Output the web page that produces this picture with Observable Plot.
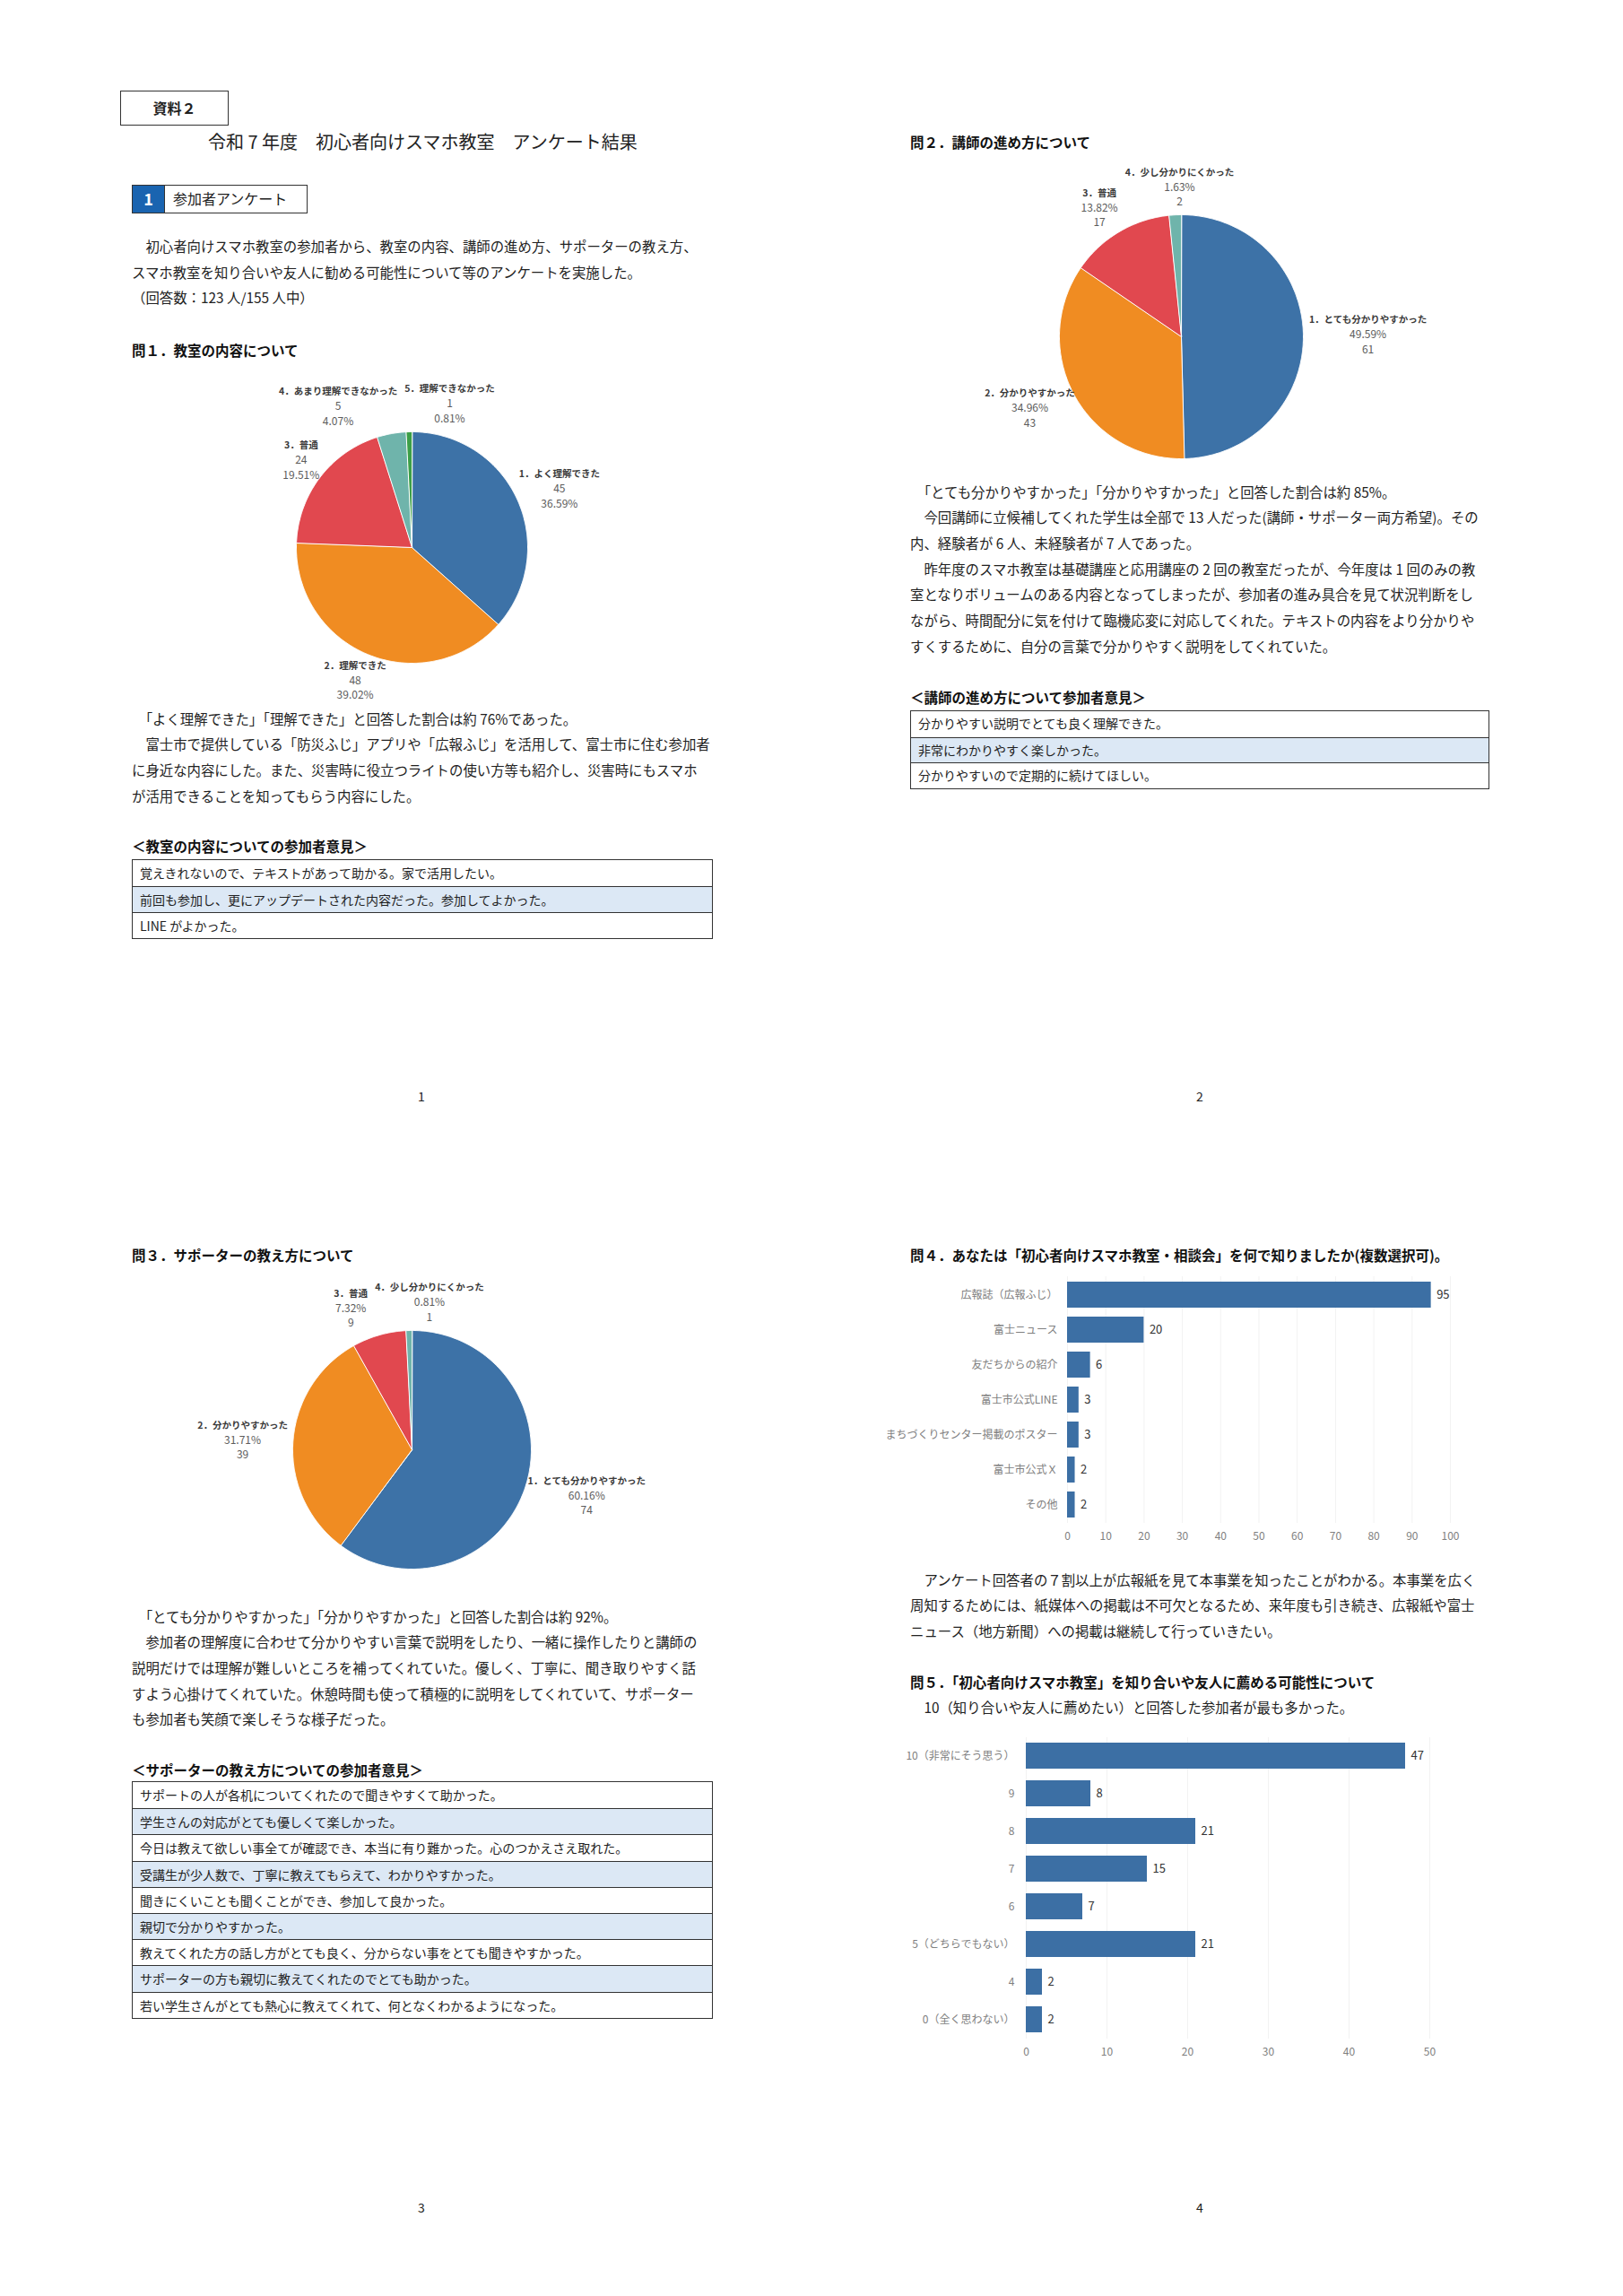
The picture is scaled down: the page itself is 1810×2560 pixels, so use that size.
<!DOCTYPE html>
<html><head><meta charset="utf-8">
<script src="https://cdn.jsdelivr.net/npm/d3@7"></script>
<script src="https://cdn.jsdelivr.net/npm/@observablehq/plot@0.6"></script>
<style>
html,body{margin:0;padding:0;background:#fff;}
#page{position:relative;width:1810px;height:2560px;overflow:hidden;font-family:"Noto Sans CJK JP","Noto Sans",sans-serif;color:#222;}
.para{position:absolute;font-size:15.4px;line-height:28.7px;white-space:pre;}
.h{position:absolute;font-size:15.5px;font-weight:700;white-space:pre;line-height:20px;color:#111;}
.tbl{position:absolute;border:1.5px solid #333;box-sizing:border-box;}
.tbl div{box-sizing:border-box;padding-left:8px;font-size:14px;white-space:pre;border-top:1px solid #333;}
.tbl div:first-child{border-top:none;}
.tbl div.b{background:#dce8f5;}
.pnum{position:absolute;font-size:14px;line-height:20px;width:40px;text-align:center;color:#222;}
.chart{position:absolute;}
</style>
</head><body>
<div id="page">
  <div style="position:absolute;left:134px;top:101px;width:121px;height:39px;border:1.5px solid #333;box-sizing:border-box;font-weight:700;font-size:16px;line-height:36px;text-align:center;">資料２</div>
  <div style="position:absolute;left:232px;top:145px;font-size:20px;line-height:26px;white-space:pre;">令和 7 年度　初心者向けスマホ教室　アンケート結果</div>
  <div style="position:absolute;left:147px;top:206px;width:196px;height:32px;border:1.5px solid #333;box-sizing:border-box;display:flex;">
    <div style="width:35px;height:100%;background:#1a64b0;color:#fff;font-weight:700;font-size:18px;line-height:29px;text-align:center;">1</div>
    <div style="padding-left:9px;font-size:16px;line-height:29px;border-left:1px solid #333;">参加者アンケート</div>
  </div>
  <div class="para" style="left:147px;top:260px;">　初心者向けスマホ教室の参加者から、教室の内容、講師の進め方、サポーターの教え方、
スマホ教室を知り合いや友人に勧める可能性について等のアンケートを実施した。
（回答数：123 人/155 人中）</div>
  <div class="h" style="left:147px;top:380px;">問１．教室の内容について</div>
  <div class="chart" id="pie1"></div>
  <div class="para" style="left:147px;top:786.6px;">　「よく理解できた」「理解できた」と回答した割合は約 76%であった。
　富士市で提供している「防災ふじ」アプリや「広報ふじ」を活用して、富士市に住む参加者
に身近な内容にした。また、災害時に役立つライトの使い方等も紹介し、災害時にもスマホ
が活用できることを知ってもらう内容にした。</div>
  <div class="h" style="left:147px;top:933px;">＜教室の内容についての参加者意見＞</div>
  <div class="tbl" style="left:147px;top:958px;width:648px;">
    <div style="height:29px;line-height:28px;">覚えきれないので、テキストがあって助かる。家で活用したい。</div>
    <div class="b" style="height:29px;line-height:28px;">前回も参加し、更にアップデートされた内容だった。参加してよかった。</div>
    <div style="height:29px;line-height:28px;">LINE がよかった。</div>
  </div>
  <div class="pnum" style="left:450px;top:1212px;">1</div>

  <div class="h" style="left:1015px;top:148px;">問２．講師の進め方について</div>
  <div class="chart" id="pie2"></div>
  <div class="para" style="left:1015px;top:533.6px;">　「とても分かりやすかった」「分かりやすかった」と回答した割合は約 85%。
　今回講師に立候補してくれた学生は全部で 13 人だった(講師・サポーター両方希望)。その
内、経験者が 6 人、未経験者が 7 人であった。
　昨年度のスマホ教室は基礎講座と応用講座の 2 回の教室だったが、今年度は 1 回のみの教
室となりボリュームのある内容となってしまったが、参加者の進み具合を見て状況判断をし
ながら、時間配分に気を付けて臨機応変に対応してくれた。テキストの内容をより分かりや
すくするために、自分の言葉で分かりやすく説明をしてくれていた。</div>
  <div class="h" style="left:1015px;top:767px;">＜講師の進め方について参加者意見＞</div>
  <div class="tbl" style="left:1015px;top:792px;width:646px;">
    <div style="height:28.7px;line-height:27.7px;">分かりやすい説明でとても良く理解できた。</div>
    <div class="b" style="height:28.7px;line-height:27.7px;">非常にわかりやすく楽しかった。</div>
    <div style="height:28.7px;line-height:27.7px;">分かりやすいので定期的に続けてほしい。</div>
  </div>
  <div class="pnum" style="left:1318px;top:1212px;">2</div>

  <div class="h" style="left:147px;top:1389px;">問３．サポーターの教え方について</div>
  <div class="chart" id="pie3"></div>
  <div class="para" style="left:147px;top:1787.6px;">　「とても分かりやすかった」「分かりやすかった」と回答した割合は約 92%。
　参加者の理解度に合わせて分かりやすい言葉で説明をしたり、一緒に操作したりと講師の
説明だけでは理解が難しいところを補ってくれていた。優しく、丁寧に、聞き取りやすく話
すよう心掛けてくれていた。休憩時間も使って積極的に説明をしてくれていて、サポーター
も参加者も笑顔で楽しそうな様子だった。</div>
  <div class="h" style="left:147px;top:1963px;">＜サポーターの教え方についての参加者意見＞</div>
  <div class="tbl" style="left:147px;top:1986px;width:648px;">
    <div style="height:29.2px;line-height:28.2px;">サポートの人が各机についてくれたので聞きやすくて助かった。</div>
    <div class="b" style="height:29.2px;line-height:28.2px;">学生さんの対応がとても優しくて楽しかった。</div>
    <div style="height:29.2px;line-height:28.2px;">今日は教えて欲しい事全てが確認でき、本当に有り難かった。心のつかえさえ取れた。</div>
    <div class="b" style="height:29.2px;line-height:28.2px;">受講生が少人数で、丁寧に教えてもらえて、わかりやすかった。</div>
    <div style="height:29.2px;line-height:28.2px;">聞きにくいことも聞くことができ、参加して良かった。</div>
    <div class="b" style="height:29.2px;line-height:28.2px;">親切で分かりやすかった。</div>
    <div style="height:29.2px;line-height:28.2px;">教えてくれた方の話し方がとても良く、分からない事をとても聞きやすかった。</div>
    <div class="b" style="height:29.2px;line-height:28.2px;">サポーターの方も親切に教えてくれたのでとても助かった。</div>
    <div style="height:29.2px;line-height:28.2px;">若い学生さんがとても熱心に教えてくれて、何となくわかるようになった。</div>
  </div>
  <div class="pnum" style="left:450px;top:2451px;">3</div>

  <div class="h" style="left:1015px;top:1389px;">問４．あなたは「初心者向けスマホ教室・相談会」を何で知りましたか(複数選択可)。</div>
  <div class="chart" id="bar4" style="left:1012px;top:1410px;"></div>
  <div class="para" style="left:1015px;top:1746.6px;">　アンケート回答者の７割以上が広報紙を見て本事業を知ったことがわかる。本事業を広く
周知するためには、紙媒体への掲載は不可欠となるため、来年度も引き続き、広報紙や富士
ニュース（地方新聞）への掲載は継続して行っていきたい。</div>
  <div class="h" style="left:1015px;top:1865px;">問５．「初心者向けスマホ教室」を知り合いや友人に薦める可能性について</div>
  <div class="para" style="left:1015px;top:1888.6px;">　10（知り合いや友人に薦めたい）と回答した参加者が最も多かった。</div>
  <div class="chart" id="bar5" style="left:1012px;top:1925px;"></div>
  <div class="pnum" style="left:1318px;top:2451px;">4</div>
</div>
<script>
// ---------- data ----------
const q1Categories = ["1．よく理解できた", "2．理解できた", "3．普通", "4．あまり理解できなかった", "5．理解できなかった"];
const q1Values = [45, 48, 24, 5, 1];
const q2Categories = ["1．とても分かりやすかった", "2．分かりやすかった", "3．普通", "4．少し分かりにくかった"];
const q2Values = [61, 43, 17, 2];
const q3Categories = ["1．とても分かりやすかった", "2．分かりやすかった", "3．普通", "4．少し分かりにくかった"];
const q3Values = [74, 39, 9, 1];
const q4Categories = ["広報誌（広報ふじ）", "富士ニュース", "友だちからの紹介", "富士市公式LINE", "まちづくりセンター掲載のポスター", "富士市公式Ｘ", "その他"];
const q4Values = [95, 20, 6, 3, 3, 2, 2];
const q4Ticks = [0, 10, 20, 30, 40, 50, 60, 70, 80, 90, 100];
const q5Categories = ["10（非常にそう思う）", "9", "8", "7", "6", "5（どちらでもない）", "4", "0（全く思わない）"];
const q5Values = [47, 8, 21, 15, 7, 21, 2, 2];
const q5Ticks = [0, 10, 20, 30, 40, 50];

// ---------- styles ----------
const FONT = '"Noto Sans CJK JP", "Noto Sans", sans-serif';
const pieColors = ["#3d72a7", "#f08c22", "#e1484f", "#6fb4ab", "#3c9f47"];
const barColor = "#3c6fa4";

const ctx = document.createElement("canvas").getContext("2d");
function textWidth(t, size, weight) {
  ctx.font = `${weight} ${size}px "Noto Sans CJK JP"`;
  return ctx.measureText(t).width;
}

function slicePts(a) {
  const pts = [{x: 0, y: 0}];
  const n = Math.max(2, Math.ceil((a.endAngle - a.startAngle) / (Math.PI / 360)));
  for (let k = 0; k <= n; k++) {
    const t = a.startAngle + (a.endAngle - a.startAngle) * k / n;
    pts.push({x: Math.sin(t), y: Math.cos(t)});
  }
  return pts;
}

function pie(id, cats, values, order, cx, cy, r, W, H) {
  const total = d3.sum(values);
  const arcs = d3.pie().sort(null).value(d => d)(values);
  const pct = v => (v / total * 100).toFixed(2) + "%";
  const CAT = 10.5, NUM = 12, LH = 16.6, GAP = 6;
  const boxes = arcs.map((a, i) => {
    const m = (a.startAngle + a.endAngle) / 2;
    const ux = Math.sin(m), uy = -Math.cos(m);
    const nums = order === "count" ? [String(values[i]), pct(values[i])] : [pct(values[i]), String(values[i])];
    const w = Math.max(textWidth(cats[i], CAT, 700), ...nums.map(t => textWidth(t, NUM, 400)));
    const h = 3 * LH;
    return {i, w, h, nums, cx: ux * (r + GAP + w / 2), cy: uy * (r + GAP + h / 2)};
  });
  for (let it = 0; it < 100; it++) {
    let moved = false;
    for (let p = 0; p < boxes.length; p++) for (let q = p + 1; q < boxes.length; q++) {
      const A = boxes[p], B = boxes[q];
      const ox = (A.w + B.w) / 2 + 8 - Math.abs(A.cx - B.cx);
      const oy = (A.h + B.h) / 2 - Math.abs(A.cy - B.cy);
      if (ox > 0.01 && oy > 0) {
        const s = A.cx <= B.cx ? -1 : 1;
        A.cx += s * ox / 2; B.cx -= s * ox / 2; moved = true;
      }
    }
    if (!moved) break;
  }
  const texts = [];
  boxes.forEach(b => {
    [cats[b.i], ...b.nums].forEach((t, k) => texts.push({x: b.cx / r, y: -(b.cy + (k - 1) * LH) / r, text: t, cat: k === 0}));
  });
  const svg = Plot.plot({
    width: W, height: H, margin: 0,
    style: {fontFamily: FONT, background: "transparent", overflow: "visible"},
    x: {domain: [-W / 2 / r, W / 2 / r], axis: null},
    y: {domain: [-H / 2 / r, H / 2 / r], axis: null},
    marks: [
      ...arcs.map((a, i) => Plot.line(slicePts(a), {x: "x", y: "y", curve: "linear-closed", fill: pieColors[i], stroke: "#ffffff", strokeWidth: 1})),
      Plot.text(texts.filter(d => d.cat), {x: "x", y: "y", text: "text", fontSize: CAT, fontWeight: 700, fill: "#3a3a3a"}),
      Plot.text(texts.filter(d => !d.cat), {x: "x", y: "y", text: "text", fontSize: NUM, fill: "#5c5c5c"})
    ]
  });
  const el = document.getElementById(id);
  el.style.left = (cx - W / 2) + "px";
  el.style.top = (cy - H / 2) + "px";
  el.appendChild(svg);
}

function bars(id, cats, values, ticks, o) {
  const data = cats.map((c, i) => ({cat: c, value: values[i]}));
  const svg = Plot.plot({
    width: o.W, height: o.H,
    marginLeft: o.mL, marginRight: o.mR, marginTop: o.mT, marginBottom: o.mB,
    style: {fontFamily: FONT, fontSize: "12px", color: "#808080", background: "transparent", overflow: "visible"},
    x: {domain: [ticks[0], ticks[ticks.length - 1]], ticks: ticks, tickSize: 0, tickPadding: 10, grid: true, label: null},
    y: {domain: cats, paddingInner: o.pi, paddingOuter: o.po, tickSize: 0, tickPadding: o.tp, label: null},
    marks: [
      Plot.barX(data, {x: "value", y: "cat", fill: barColor}),
      Plot.text(data, {x: "value", y: "cat", text: d => String(d.value), dx: 6, textAnchor: "start", fill: "#333333", fontSize: 13})
    ]
  });
  document.getElementById(id).appendChild(svg);
}

pie("pie1", q1Categories, q1Values, "count", 459, 610, 129, 480, 420);
pie("pie2", q2Categories, q2Values, "pct", 1317, 375, 136, 600, 440);
pie("pie3", q3Categories, q3Values, "pct", 459, 1616, 133, 600, 440);
bars("bar4", q4Categories, q4Values, q4Ticks, {W: 640, H: 318, mL: 178, mR: 35, mT: 13, mB: 30, pi: 0.26, po: 0.13, tp: 11});
bars("bar5", q5Categories, q5Values, q5Ticks, {W: 622, H: 378, mL: 132, mR: 40, mT: 12, mB: 30, pi: 0.3, po: 0.15, tp: 13});
</script>
</body></html>
